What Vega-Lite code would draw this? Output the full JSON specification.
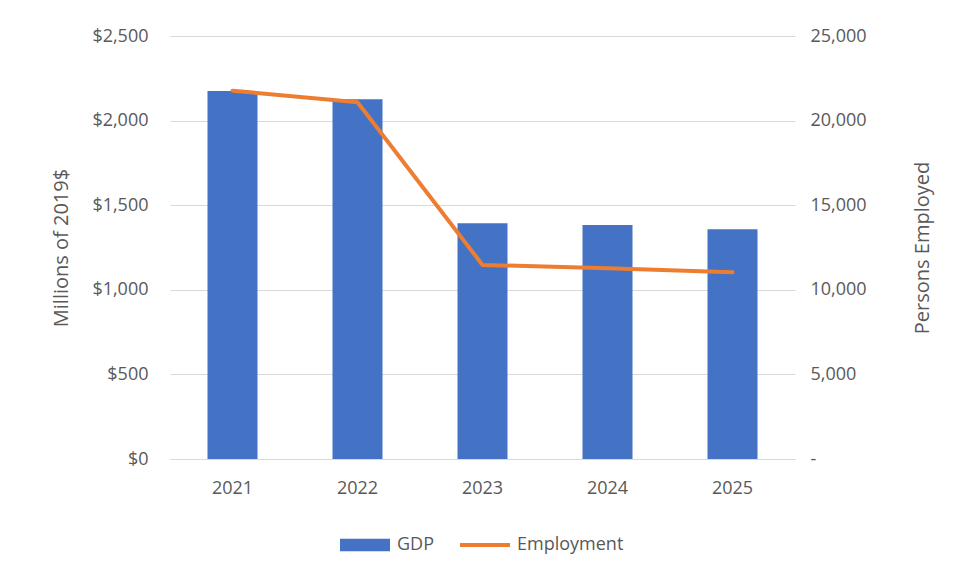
{
  "$schema": "https://vega.github.io/schema/vega-lite/v6.json",
  "width": 625,
  "height": 423,
  "autosize": {"type": "none"},
  "padding": {"left": 170, "top": 36, "right": 168, "bottom": 120},
  "background": "white",
  "config": {
    "view": {"stroke": null},
    "font": "Open Sans",
    "axis": {"labelFont": "Open Sans", "titleFont": "Open Sans", "labelColor": "#595959", "titleColor": "#595959", "labelFontSize": 18, "titleFontSize": 20, "titleFontWeight": "normal"},
    "legend": {"labelFont": "Open Sans", "labelFontSize": 18, "labelColor": "#595959"}
  },
  "data": {
    "values": [
      {"year": "2021", "gdp": 2175, "emp": 21770},
      {"year": "2022", "gdp": 2126, "emp": 21080},
      {"year": "2023", "gdp": 1393, "emp": 11470},
      {"year": "2024", "gdp": 1383, "emp": 11270},
      {"year": "2025", "gdp": 1358, "emp": 11030}
    ]
  },
  "encoding": {
    "x": {
      "field": "year", "type": "ordinal",
      "scale": {"paddingInner": 0.6, "paddingOuter": 0.3},
      "axis": {"title": null, "labelAngle": 0, "ticks": false, "labelPadding": 20, "domainColor": "#d9d9d9", "grid": false}
    }
  },
  "layer": [
    {
      "mark": {"type": "bar", "color": "#4472C4"},
      "encoding": {
        "y": {
          "field": "gdp", "type": "quantitative",
          "scale": {"domain": [0, 2500]},
          "axis": {"title": "Millions of 2019$", "values": [0, 500, 1000, 1500, 2000, 2500], "format": "$,.0f", "ticks": false, "domain": false, "labelPadding": 22, "titlePadding": 20, "gridColor": "#d9d9d9", "titleAngle": 270}
        },
        "color": {
          "datum": "GDP",
          "scale": {"domain": ["GDP", "Employment"], "range": ["#4472C4", "#ED7D31"]},
          "legend": {
            "title": null, "orient": "none", "direction": "horizontal",
            "legendX": 170, "legendY": 484,
            "symbolSize": 2500, "labelOffset": 7, "columnPadding": 26,
            "symbolType": "M-1,-0.25H1V0.25H-1Z",
            "encode": {
              "symbols": {
                "update": {
                  "shape": {"signal": "datum.value == 'GDP' ? 'M-1,-0.25H1V0.25H-1Z' : 'M-1,-0.08H1V0.08H-1Z'"},
                  "fill": {"signal": "datum.value == 'GDP' ? '#4472C4' : '#ED7D31'"},
                  "stroke": {"value": "transparent"},
                  "strokeWidth": {"value": 0},
                  "opacity": {"value": 1}
                }
              }
            }
          }
        }
      }
    },
    {
      "mark": {"type": "line", "strokeWidth": 4, "strokeCap": "round", "strokeJoin": "round"},
      "encoding": {
        "y": {
          "field": "emp", "type": "quantitative",
          "scale": {"domain": [0, 25000]},
          "axis": {"title": "Persons Employed", "orient": "right", "values": [0, 5000, 10000, 15000, 20000, 25000], "labelExpr": "datum.value == 0 ? '-' : format(datum.value, ',')", "ticks": false, "domain": false, "grid": false, "labelPadding": 15, "titlePadding": 66, "titleAngle": 270}
        },
        "color": {"datum": "Employment"}
      }
    }
  ],
  "resolve": {"scale": {"y": "independent"}}
}
